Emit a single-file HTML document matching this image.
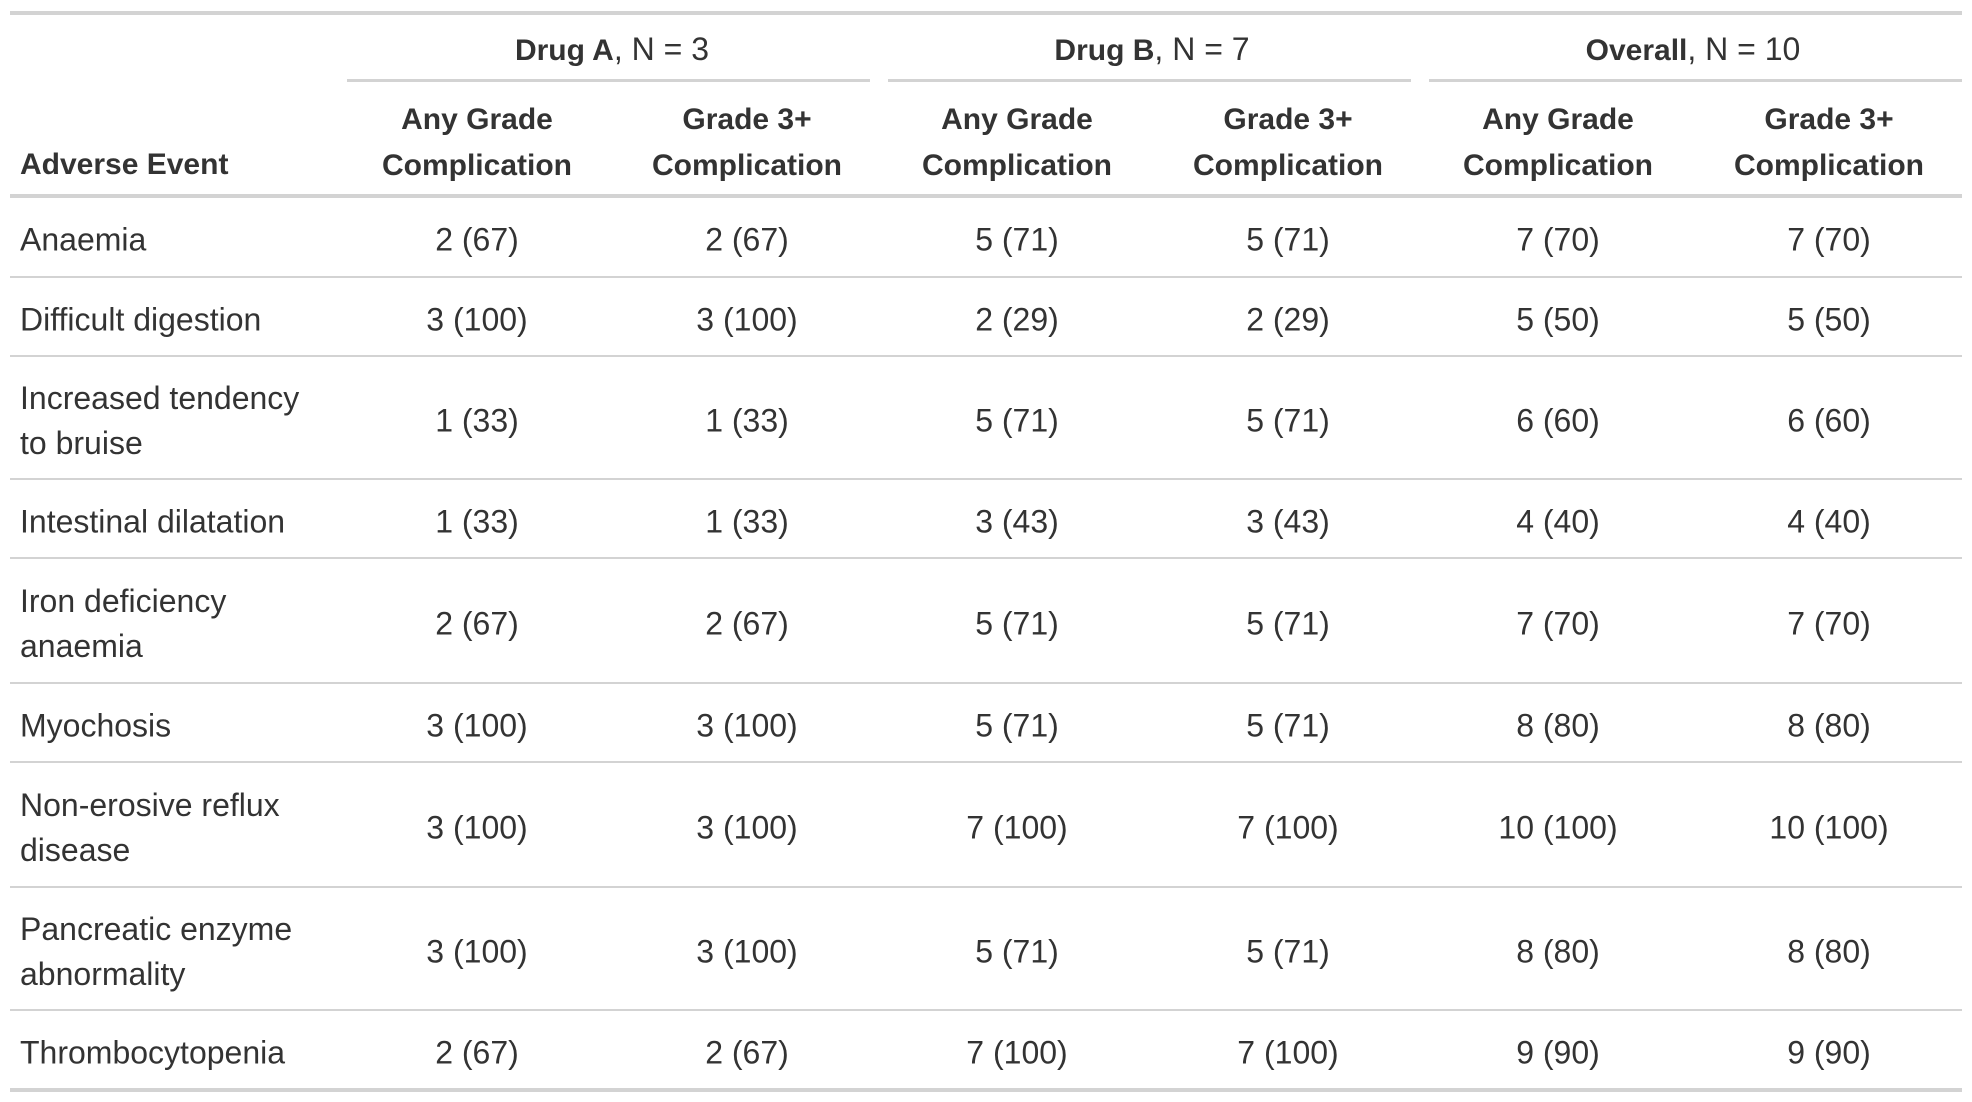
<!DOCTYPE html>
<html><head><meta charset="utf-8"><style>
body{margin:0;width:1972px;height:1102px;background:#fff;position:relative;overflow:hidden;font-family:"Liberation Sans",sans-serif;color:#333;font-size:32px}
.l{position:absolute;background:#d3d3d3}
.c{position:absolute;width:270px;text-align:center;line-height:45px;transform:translateY(-50%);white-space:nowrap}
.r{position:absolute;left:20px;line-height:45px;transform:translateY(-50%);white-space:nowrap}
b{font-weight:bold;font-size:30px}
</style></head><body>
<div class="l" style="left:10px;top:11px;width:1952px;height:4px"></div>
<div class="l" style="left:347px;top:79px;width:523px;height:3px"></div>
<div class="l" style="left:888px;top:79px;width:523px;height:3px"></div>
<div class="l" style="left:1429px;top:79px;width:533px;height:3px"></div>
<div class="l" style="left:10px;top:194px;width:1952px;height:4px"></div>
<div class="c" style="left:342px;width:540px;top:50px"><b>Drug A</b>, N = 3</div>
<div class="c" style="left:882px;width:540px;top:50px"><b>Drug B</b>, N = 7</div>
<div class="c" style="left:1423px;width:540px;top:50px"><b>Overall</b>, N = 10</div>
<div class="r" style="top:164px"><b>Adverse Event</b></div>
<div id="h"></div>
<script>
var cx=[477,747,1017,1288,1558,1829],h='';
for(var i=0;i<6;i++){var t=i%2?'Grade 3+':'Any Grade';h+='<div class="c" style="left:'+(cx[i]-135)+'px;top:142px"><b>'+t+'<br>Complication</b></div>';}
var rows=[["Anaemia","2 (67)","2 (67)","5 (71)","5 (71)","7 (70)","7 (70)"],
["Difficult digestion","3 (100)","3 (100)","2 (29)","2 (29)","5 (50)","5 (50)"],
["Increased tendency<br>to bruise","1 (33)","1 (33)","5 (71)","5 (71)","6 (60)","6 (60)"],
["Intestinal dilatation","1 (33)","1 (33)","3 (43)","3 (43)","4 (40)","4 (40)"],
["Iron deficiency<br>anaemia","2 (67)","2 (67)","5 (71)","5 (71)","7 (70)","7 (70)"],
["Myochosis","3 (100)","3 (100)","5 (71)","5 (71)","8 (80)","8 (80)"],
["Non-erosive reflux<br>disease","3 (100)","3 (100)","7 (100)","7 (100)","10 (100)","10 (100)"],
["Pancreatic enzyme<br>abnormality","3 (100)","3 (100)","5 (71)","5 (71)","8 (80)","8 (80)"],
["Thrombocytopenia","2 (67)","2 (67)","7 (100)","7 (100)","9 (90)","9 (90)"]];
var b=[197,277,356,479,558,683,762,887,1010,1089];
for(var r=0;r<9;r++){var m=(b[r]+b[r+1])/2+3;h+='<div class="r" style="top:'+m+'px">'+rows[r][0]+'</div>';
for(var j=0;j<6;j++)h+='<div class="c" style="left:'+(cx[j]-135)+'px;top:'+m+'px">'+rows[r][j+1]+'</div>';
h+='<div class="l" style="left:10px;top:'+(b[r+1]-1)+'px;width:1952px;height:'+(r==8?4:2)+'px"></div>';}
document.getElementById('h').innerHTML=h;
</script>
</body></html>
